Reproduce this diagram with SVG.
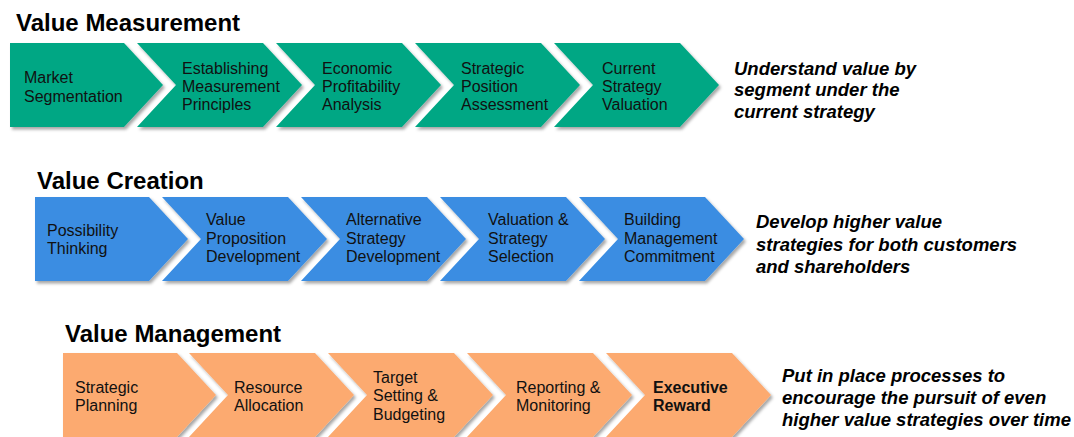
<svg xmlns="http://www.w3.org/2000/svg" width="1074" height="437" viewBox="0 0 1074 437">
  <defs>
    <filter id="shadow" x="-5%" y="-5%" width="115%" height="120%">
      <feDropShadow dx="2" dy="2.5" stdDeviation="1.6" flood-color="#000" flood-opacity="0.35"/>
    </filter>
    <!-- first step: flat left edge, pointed right -->
    <path id="head" d="M0,0 H114 L153,42 L114,84 H0 Z"/>
    <!-- following steps: notched left edge, pointed right -->
    <path id="chev" d="M0,0 H126 L165,42 L126,84 H0 L39,42 Z"/>
  </defs>
  <style>
    .title { font-family: "Liberation Sans", Arial, sans-serif; font-weight: bold; font-size: 24px; fill: #000; }
    .lbl { font-family: "Liberation Sans", Arial, sans-serif; font-size: 16px; fill: #111; }
    .lbl.b { font-weight: bold; }
    .note { font-family: "Liberation Sans", Arial, sans-serif; font-weight: bold; font-style: italic; font-size: 18.5px; fill: #000; }
    .green { fill: #00A784; }
    .blue { fill: #3A8DE2; }
    .orange { fill: #FCAA70; }
    .step use { filter: url(#shadow); }
  </style>
  <rect width="1074" height="437" fill="#fff"/>

  <!-- Value Measurement -->
  <g id="row-measurement">
    <text class="title" x="16" y="31">Value Measurement</text>
    <g id="vm-1" class="step"><use href="#head" class="green" x="10" y="43"/>
      <text class="lbl" x="24" y="83">Market</text><text class="lbl" x="24" y="102">Segmentation</text></g>
    <g id="vm-2" class="step"><use href="#chev" class="green" x="137" y="43"/>
      <text class="lbl" x="182" y="74">Establishing</text><text class="lbl" x="182" y="92">Measurement</text><text class="lbl" x="182" y="110">Principles</text></g>
    <g id="vm-3" class="step"><use href="#chev" class="green" x="276" y="43"/>
      <text class="lbl" x="322" y="74">Economic</text><text class="lbl" x="322" y="92">Profitability</text><text class="lbl" x="322" y="110">Analysis</text></g>
    <g id="vm-4" class="step"><use href="#chev" class="green" x="415" y="43"/>
      <text class="lbl" x="461" y="74">Strategic</text><text class="lbl" x="461" y="92">Position</text><text class="lbl" x="461" y="110">Assessment</text></g>
    <g id="vm-5" class="step"><use href="#chev" class="green" x="554" y="43"/>
      <text class="lbl" x="602" y="74">Current</text><text class="lbl" x="602" y="92">Strategy</text><text class="lbl" x="602" y="110">Valuation</text></g>
    <g id="vm-note">
      <text class="note" x="734" y="75">Understand value by</text>
      <text class="note" x="734" y="96">segment under the</text>
      <text class="note" x="734" y="118">current strategy</text>
    </g>
  </g>

  <!-- Value Creation -->
  <g id="row-creation">
    <text class="title" x="37" y="189">Value Creation</text>
    <g id="vc-1" class="step"><use href="#head" class="blue" x="35" y="197"/>
      <text class="lbl" x="47" y="236">Possibility</text><text class="lbl" x="47" y="254">Thinking</text></g>
    <g id="vc-2" class="step"><use href="#chev" class="blue" x="162" y="197"/>
      <text class="lbl" x="206" y="225">Value</text><text class="lbl" x="206" y="244">Proposition</text><text class="lbl" x="206" y="262">Development</text></g>
    <g id="vc-3" class="step"><use href="#chev" class="blue" x="301" y="197"/>
      <text class="lbl" x="346" y="225">Alternative</text><text class="lbl" x="346" y="244">Strategy</text><text class="lbl" x="346" y="262">Development</text></g>
    <g id="vc-4" class="step"><use href="#chev" class="blue" x="440" y="197"/>
      <text class="lbl" x="488" y="225">Valuation &amp;</text><text class="lbl" x="488" y="244">Strategy</text><text class="lbl" x="488" y="262">Selection</text></g>
    <g id="vc-5" class="step"><use href="#chev" class="blue" x="579" y="197"/>
      <text class="lbl" x="624" y="225">Building</text><text class="lbl" x="624" y="244">Management</text><text class="lbl" x="624" y="262">Commitment</text></g>
    <g id="vc-note">
      <text class="note" x="756" y="228">Develop higher value</text>
      <text class="note" x="756" y="251">strategies for both customers</text>
      <text class="note" x="756" y="273">and shareholders</text>
    </g>
  </g>

  <!-- Value Management -->
  <g id="row-management">
    <text class="title" x="65" y="342">Value Management</text>
    <g id="vg-1" class="step"><use href="#head" class="orange" x="63" y="353"/>
      <text class="lbl" x="75" y="393">Strategic</text><text class="lbl" x="75" y="411">Planning</text></g>
    <g id="vg-2" class="step"><use href="#chev" class="orange" x="189" y="353"/>
      <text class="lbl" x="234" y="393">Resource</text><text class="lbl" x="234" y="411">Allocation</text></g>
    <g id="vg-3" class="step"><use href="#chev" class="orange" x="328" y="353"/>
      <text class="lbl" x="373" y="383">Target</text><text class="lbl" x="373" y="401">Setting &amp;</text><text class="lbl" x="373" y="420">Budgeting</text></g>
    <g id="vg-4" class="step"><use href="#chev" class="orange" x="467" y="353"/>
      <text class="lbl" x="516" y="393">Reporting &amp;</text><text class="lbl" x="516" y="411">Monitoring</text></g>
    <g id="vg-5" class="step"><use href="#chev" class="orange" x="606" y="353"/>
      <text class="lbl b" x="653" y="393">Executive</text><text class="lbl b" x="653" y="411">Reward</text></g>
    <g id="vg-note">
      <text class="note" x="782" y="382">Put in place processes to</text>
      <text class="note" x="782" y="404">encourage the pursuit of even</text>
      <text class="note" x="782" y="426">higher value strategies over time</text>
    </g>
  </g>
</svg>
